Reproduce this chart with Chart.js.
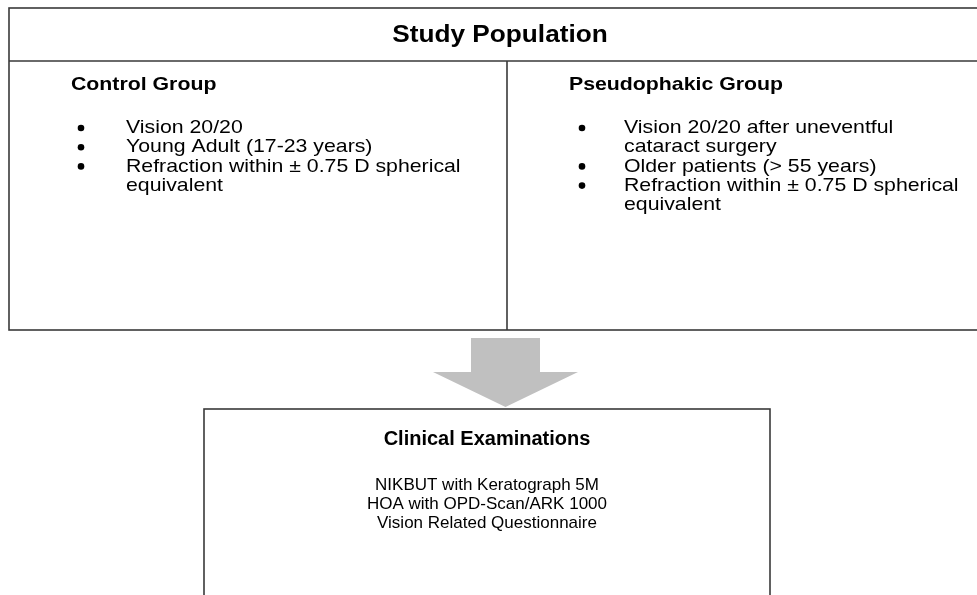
<!DOCTYPE html>
<html>
<head>
<meta charset="utf-8">
<script src="https://cdn.jsdelivr.net/npm/chart.js@4"></script>
<style>
    html, body { margin: 0; padding: 0; background: #ffffff; }
    #wrap { width: 977px; height: 595px; }
</style>
</head>
<body>
<div id="wrap"><canvas id="flowChart"></canvas></div>
<script>
// texts of the diagram
const populationTitle = "Study Population";
const groupTitles = ["Control Group", "Pseudophakic Group"];
const controlCriteria = [
    ["Vision 20/20"],
    ["Young Adult (17-23 years)"],
    ["Refraction within \u00b1 0.75 D spherical", "equivalent"],
];
const pseudophakicCriteria = [
    ["Vision 20/20 after uneventful", "cataract surgery"],
    ["Older patients (> 55 years)"],
    ["Refraction within \u00b1 0.75 D spherical", "equivalent"],
];
const examTitle = "Clinical Examinations";
const examItems = [
    "NIKBUT with Keratograph 5M",
    "HOA with OPD-Scan/ARK 1000",
    "Vision Related Questionnaire",
];

// layout, in diagram units (the hidden scales run 0..977 and 0..595)
const layout = {
    outer: { left: 9, top: 8, right: 1005, bottom: 330 },
    titleRow: 61,
    titleX: 500,
    divider: 507,
    columns: [
        { heading: 71, bullet: 81, text: 126 },
        { heading: 569, bullet: 582, text: 624 },
    ],
    headingY: 85,
    firstLineY: 128,
    lineGap: 19.2,
    topStretch: 1.12,
    arrow: { shaftLeft: 471, shaftRight: 540, top: 338, neck: 372, headLeft: 433, headRight: 578, tip: 407 },
    exam: { left: 204, right: 770, top: 409, bottom: 600, titleY: 439, firstLineY: 485 },
};

const fontFamily = "'Liberation Sans', Arial, Helvetica, sans-serif";
const lineColor = "#3a3a3a";
const arrowColor = "#c0c0c0";

/**
 * text drawn with a slight horizontal stretch, as in the source figure
 */
function _drawText(ctx, text, x, y, align, stretch) {
    ctx.save();
    ctx.translate(x, y);
    ctx.scale(stretch, 1);
    ctx.textAlign = align;
    ctx.fillText(text, 0, 0);
    ctx.restore();
}

const diagramPlugin = {
    id: "diagram",
    afterDraw(chart) {
        const ctx = chart.ctx;
        const sx = chart.scales.x;
        const sy = chart.scales.y;
        const px = (v) => sx.getPixelForValue(v);
        const py = (v) => sy.getPixelForValue(v);
        const st = layout.topStretch;

        ctx.save();
        ctx.strokeStyle = lineColor;
        ctx.lineWidth = 1.6;

        // outer population box
        const o = layout.outer;
        ctx.strokeRect(px(o.left), py(o.top), px(o.right) - px(o.left), py(o.bottom) - py(o.top));
        ctx.beginPath();
        ctx.moveTo(px(o.left), py(layout.titleRow));
        ctx.lineTo(px(o.right), py(layout.titleRow));
        ctx.moveTo(px(layout.divider), py(layout.titleRow));
        ctx.lineTo(px(layout.divider), py(o.bottom));
        ctx.stroke();

        ctx.fillStyle = "#000000";
        ctx.textBaseline = "middle";

        ctx.font = "bold 23px " + fontFamily;
        _drawText(ctx, populationTitle, px(layout.titleX), py((o.top + layout.titleRow) / 2 + 1), "center", 1.14);

        const groups = [controlCriteria, pseudophakicCriteria];
        for (let c = 0; c < groups.length; c++) {
            const col = layout.columns[c];
            ctx.font = "bold 19px " + fontFamily;
            _drawText(ctx, groupTitles[c], px(col.heading), py(layout.headingY), "left", st);

            ctx.font = "19px " + fontFamily;
            let line = 0;
            for (let item of groups[c]) {
                const y = layout.firstLineY + line * layout.lineGap;
                ctx.beginPath();
                ctx.arc(px(col.bullet), py(y), 3.3, 0, Math.PI * 2);
                ctx.fill();
                for (let text of item) {
                    _drawText(ctx, text, px(col.text), py(layout.firstLineY + line * layout.lineGap), "left", st);
                    line++;
                }
            }
        }

        // arrow
        const a = layout.arrow;
        ctx.fillStyle = arrowColor;
        ctx.beginPath();
        ctx.moveTo(px(a.shaftLeft), py(a.top));
        ctx.lineTo(px(a.shaftRight), py(a.top));
        ctx.lineTo(px(a.shaftRight), py(a.neck));
        ctx.lineTo(px(a.headRight), py(a.neck));
        ctx.lineTo(px((a.shaftLeft + a.shaftRight) / 2), py(a.tip));
        ctx.lineTo(px(a.headLeft), py(a.neck));
        ctx.lineTo(px(a.shaftLeft), py(a.neck));
        ctx.closePath();
        ctx.fill();

        // clinical examinations box
        const e = layout.exam;
        ctx.strokeRect(px(e.left), py(e.top), px(e.right) - px(e.left), py(e.bottom) - py(e.top));

        ctx.fillStyle = "#000000";
        const cx = px((e.left + e.right) / 2);
        ctx.font = "bold 20px " + fontFamily;
        _drawText(ctx, examTitle, cx, py(e.titleY), "center", 1);
        ctx.font = "17px " + fontFamily;
        for (let i = 0; i < examItems.length; i++) {
            _drawText(ctx, examItems[i], cx, py(e.firstLineY + i * layout.lineGap), "center", 1);
        }
        ctx.restore();
    },
};

new Chart(document.getElementById("flowChart"), {
    type: "scatter",
    data: { datasets: [] },
    options: {
        responsive: true,
        maintainAspectRatio: false,
        animation: false,
        layout: { padding: 0 },
        scales: {
            x: { type: "linear", min: 0, max: 977, display: false },
            y: { type: "linear", min: 0, max: 595, reverse: true, display: false },
        },
        plugins: {
            legend: { display: false },
            tooltip: { enabled: false },
        },
    },
    plugins: [diagramPlugin],
});
</script>
</body>
</html>
